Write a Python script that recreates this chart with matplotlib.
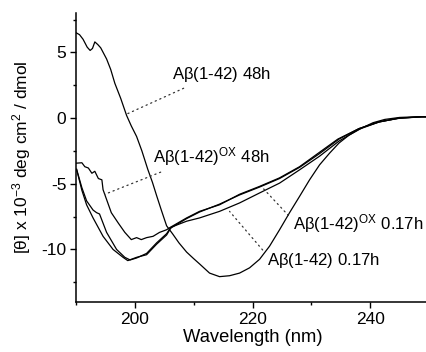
import numpy as np
import matplotlib
matplotlib.use("Agg")
import matplotlib.pyplot as plt
from matplotlib.ticker import MultipleLocator

plt.rcParams['font.family'] = ['Liberation Sans', 'DejaVu Sans']
plt.rcParams['mathtext.fontset'] = 'custom'
plt.rcParams['mathtext.rm'] = 'Liberation Sans'
plt.rcParams['mathtext.it'] = 'Liberation Sans'
plt.rcParams['axes.unicode_minus'] = False

# Abeta(1-42) 48h
wl_48h = [190.0, 190.6, 191.2, 191.9, 192.4, 192.8, 193.2, 193.7, 194.2, 195.2,
          195.9, 196.6, 197.6, 198.6, 199.4, 200.3, 201.2, 202.2, 203.0, 203.7,
          204.5, 205.4, 206.4, 207.5, 208.8, 210.0, 211.0, 212.7, 214.4, 216.1,
          217.8, 219.5, 221.2, 222.9, 224.6, 226.3, 228.0, 229.7, 231.4, 233.1,
          234.7, 236.4, 238.6, 240.5, 242.5, 245.0, 248.0, 250.0]
cd_48h = [6.5, 6.35, 6.0, 5.4, 5.15, 5.3, 5.8, 5.6, 5.35, 4.5,
          3.7, 2.65, 1.5, 0.2, -0.6, -1.4, -2.5, -3.9, -4.9, -5.9,
          -7.0, -8.2, -8.8, -9.5, -10.2, -10.7, -11.1, -11.8, -12.07, -12.0,
          -11.8, -11.4, -10.75, -9.75, -8.5, -7.2, -5.96, -4.7, -3.56, -2.67,
          -1.9, -1.3, -0.75, -0.35, -0.1, 0.05, 0.1, 0.1]

# Abeta(1-42)ox 48h
wl_ox_48h = [190.1, 191.0, 191.5, 192.1, 192.7, 193.2, 193.8, 194.4, 194.6, 195.2,
             196.0, 197.2, 198.3, 199.4, 200.3, 201.1, 202.0, 203.1, 204.2, 205.4,
             205.9, 208.8, 211.0, 214.4, 217.8, 221.2, 224.6, 228.0, 231.4, 234.5,
             238.1, 241.5, 244.9, 248.8, 250.0]
cd_ox_48h = [-3.43, -3.4, -3.7, -3.8, -4.2, -4.05, -4.6, -4.7, -5.45, -6.2,
             -7.2, -8.0, -8.7, -9.25, -9.1, -9.25, -9.1, -9.0, -8.7, -8.5,
             -8.35, -7.6, -7.1, -6.6, -5.8, -5.2, -4.55, -3.7, -2.6, -1.6,
             -0.8, -0.28, -0.02, 0.1, 0.1]

# Abeta(1-42)ox 0.17h
wl_ox_017h = [190.1, 191.0, 191.8, 192.9, 193.5, 194.0, 195.2, 196.9, 198.3, 199.2,
              200.3, 202.0, 203.7, 205.4, 206.0, 208.8, 211.0, 214.4, 217.8, 221.2,
              224.6, 228.0, 231.4, 234.7, 238.1, 241.5, 244.9, 248.8, 250.0]
cd_ox_017h = [-3.9, -5.3, -6.3, -7.0, -7.2, -7.3, -8.7, -10.0, -10.6, -10.8,
              -10.65, -10.3, -9.5, -8.8, -8.4, -7.65, -7.15, -6.55, -5.85, -5.25,
              -4.6, -3.75, -2.7, -1.6, -0.8, -0.3, 0.0, 0.1, 0.1]

# Abeta(1-42) 0.17h
wl_017h = [190.1, 191.0, 191.8, 192.9, 194.6, 196.3, 198.0, 198.8, 200.3, 202.0,
           203.7, 205.4, 206.2, 208.8, 211.0, 214.4, 217.8, 221.2, 224.6, 228.0,
           231.4, 234.7, 238.1, 241.5, 244.9, 248.8, 250.0]
cd_017h = [-3.9, -5.5, -6.6, -7.6, -9.0, -10.0, -10.6, -10.85, -10.6, -10.4,
           -9.6, -8.9, -8.3, -7.85, -7.6, -7.1, -6.46, -5.7, -4.95, -3.94,
           -2.9, -1.75, -0.85, -0.3, 0.0, 0.1, 0.1]

# labels: text, pointed-at point, text position (baseline-left), line anchor on text box
labels = [r'A$\beta$(1-42) 48h',
          r'A$\beta$(1-42)$^{\rm OX}$ 48h',
          r'A$\beta$(1-42)$^{\rm OX}$ 0.17h',
          r'A$\beta$(1-42) 0.17h']
label_tips = [(198.6, 0.3), (194.9, -5.8), (221.7, -5.3), (216.1, -7.1)]
label_pos = [(206.4, 2.95), (203.05, -3.4), (226.9, -8.5), (222.5, -11.15)]
label_rel = [(0.2, 0.0), (0.15, 0.0), (0.0, 0.65), (0.0, 0.75)]

fig = plt.figure(figsize=(4.26, 3.52), dpi=100)
ax = fig.add_axes([76 / 426, 50 / 352, 353 / 426, 289 / 352])

for wl, cd in [(wl_48h, cd_48h), (wl_ox_48h, cd_ox_48h),
               (wl_ox_017h, cd_ox_017h), (wl_017h, cd_017h)]:
    ax.plot(wl, cd, color='black', lw=0.9)

for txt, tip, pos, rel in zip(labels, label_tips, label_pos, label_rel):
    ax.annotate(txt, xy=tip, xytext=pos, ha='left', va='baseline', fontsize=12.1,
                arrowprops=dict(arrowstyle='-', linestyle=(0, (1, 3)), lw=0.9,
                                color='#333333', relpos=rel, shrinkA=2, shrinkB=0))

ax.set_xlim(190, 250)
ax.set_ylim(-14, 8)
ax.xaxis.set_major_locator(MultipleLocator(20))
ax.xaxis.set_minor_locator(MultipleLocator(10))
ax.yaxis.set_major_locator(MultipleLocator(5))
ax.yaxis.set_minor_locator(MultipleLocator(2.5))
ax.tick_params(which='major', direction='out', length=4, width=1, labelsize=12.5, pad=3)
ax.tick_params(which='minor', direction='out', length=2.5, width=1)

for s in ['top', 'right']:
    ax.spines[s].set_visible(False)
for s in ['left', 'bottom']:
    ax.spines[s].set_linewidth(1.1)

ax.set_xlabel('Wavelength (nm)', fontsize=13.2, labelpad=2)
ax.set_ylabel(r'[$\theta$] x 10$^{-3}$ deg cm$^2$ / dmol', fontsize=12.5, labelpad=6)

fig.savefig('out.png', dpi=100)
